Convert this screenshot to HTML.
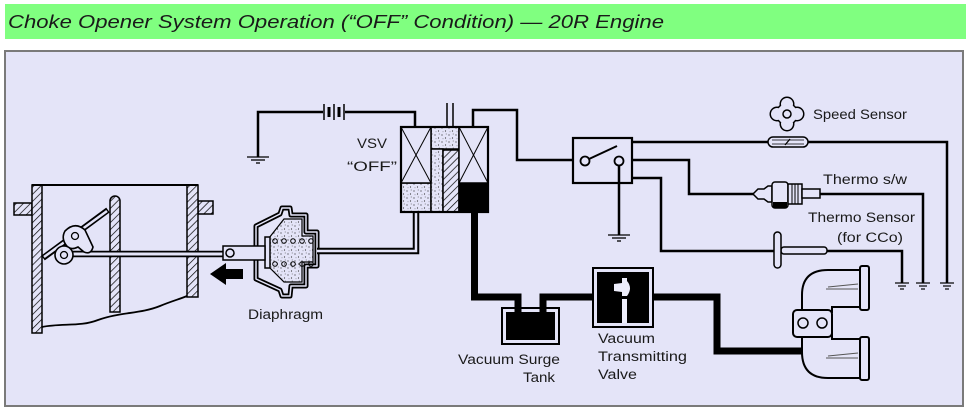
<!DOCTYPE html>
<html><head><meta charset="utf-8"><style>
html,body{margin:0;padding:0;background:#fff;}
svg{display:block;}
text{font-family:"Liberation Sans",Arial,sans-serif;fill:#1a1a1a;}
</style></head><body>
<svg width="970" height="416" viewBox="0 0 970 416" xmlns="http://www.w3.org/2000/svg">
<defs>
<pattern id="dots" width="7" height="7" patternUnits="userSpaceOnUse">
<rect width="7" height="7" fill="#e4e4f8"/>
<circle cx="1" cy="2" r="0.6" fill="#333"/>
<circle cx="4.5" cy="5" r="0.6" fill="#333"/>
<circle cx="5.2" cy="1" r="0.45" fill="#555"/>
<circle cx="2" cy="5.8" r="0.4" fill="#555"/>
</pattern>
<pattern id="hatch" width="5" height="5" patternUnits="userSpaceOnUse" patternTransform="rotate(45)">
<rect width="5" height="5" fill="#e4e4f8"/>
<line x1="0" y1="0" x2="0" y2="5" stroke="#000" stroke-width="1.4"/>
</pattern>
</defs>

<!-- title bar -->
<rect x="5" y="4" width="961" height="35" fill="#80ff80"/>
<text x="8" y="28" font-size="18" font-style="italic" textLength="656" lengthAdjust="spacingAndGlyphs">Choke Opener System Operation (“OFF” Condition) — 20R Engine</text>

<!-- panel -->
<rect x="5" y="51" width="958" height="355" fill="#e4e4f8" stroke="#7a7a7a" stroke-width="2"/>

<!-- ===== Carburetor ===== -->
<g stroke="#000" stroke-width="1.5">
<rect x="14" y="203" width="18" height="12" fill="url(#hatch)"/>
<rect x="198" y="201" width="15" height="13" fill="url(#hatch)"/>
<rect x="32" y="185" width="10" height="148" fill="url(#hatch)"/>
<rect x="187" y="185" width="11" height="112" fill="url(#hatch)"/>
<path d="M110,312 L110,201 A5,5 0 0 1 120,201 L120,312 Z" fill="url(#hatch)"/>
</g>
<line x1="32" y1="185" x2="198" y2="185" stroke="#000" stroke-width="2"/>
<path d="M42,327 C62,323 80,327 98,320 C120,312 140,314 160,306 C172,301 180,299 187,296" fill="none" stroke="#000" stroke-width="1.8"/>
<!-- choke plate -->
<line x1="43" y1="258" x2="108" y2="210" stroke="#000" stroke-width="6"/>
<line x1="44" y1="257" x2="107" y2="211" stroke="#e4e4f8" stroke-width="2.5"/>
<!-- rod -->
<line x1="62" y1="254" x2="224" y2="254" stroke="#000" stroke-width="6.5"/>
<line x1="63" y1="254" x2="223" y2="254" stroke="#e4e4f8" stroke-width="3"/>
<!-- linkage -->
<path d="M65,231 Q75,221 85,230 L93,247 Q91,255 84,252 L78,247 Q70,251 66,245 Q61,238 65,231 Z" fill="#e4e4f8" stroke="#000" stroke-width="1.6"/>
<circle cx="64" cy="255" r="9" fill="#e4e4f8" stroke="#000" stroke-width="1.6"/>
<circle cx="75" cy="236" r="3.5" fill="none" stroke="#000" stroke-width="1.3"/>
<circle cx="64" cy="255" r="3.5" fill="none" stroke="#000" stroke-width="1.3"/>
<!-- arrow -->
<polygon points="210,274 226,263 226,269 243,269 243,279 226,279 226,285" fill="#000"/>

<!-- ===== Diaphragm ===== -->
<path d="M256,226 L280,214 L282,208 L290,208 L291,215 L306,215 L306,232 L317,232 L317,266 L306,266 L306,286 L291,286 L290,296 L282,296 L280,290 L256,279 Z" fill="#e4e4f8" stroke="#000" stroke-width="5" stroke-linejoin="round"/>
<path d="M256,226 L280,214 L282,208 L290,208 L291,215 L306,215 L306,232 L317,232 L317,266 L306,266 L306,286 L291,286 L290,296 L282,296 L280,290 L256,279 Z" fill="none" stroke="#e4e4f8" stroke-width="1.5" stroke-linejoin="round"/>
<path d="M269,238 L284,219 L302,219 L302,236 L313,236 L313,262 L302,262 L302,282 L284,282 L269,267 Z" fill="url(#dots)" stroke="#000" stroke-width="1.2"/>
<g fill="none" stroke="#000" stroke-width="1">
<circle cx="275" cy="241" r="2.3"/><circle cx="284" cy="241" r="2.3"/><circle cx="293" cy="241" r="2.3"/><circle cx="302" cy="241" r="2.3"/><circle cx="311" cy="241" r="2.3"/>
<circle cx="275" cy="264" r="2.3"/><circle cx="284" cy="264" r="2.3"/><circle cx="293" cy="264" r="2.3"/><circle cx="302" cy="264" r="2.3"/><circle cx="311" cy="264" r="2.3"/>
</g>
<rect x="265" y="237" width="5" height="31" fill="#e4e4f8" stroke="#000" stroke-width="1.5"/>
<rect x="223" y="246" width="42" height="14" fill="#e4e4f8" stroke="#000" stroke-width="1.5"/>
<circle cx="230" cy="253" r="4" fill="#e4e4f8" stroke="#000" stroke-width="1.5"/>
<text x="248" y="319" font-size="13.5" textLength="75" lengthAdjust="spacingAndGlyphs">Diaphragm</text>

<!-- hose diaphragm to VSV -->
<path d="M317,251 L416,251 L416,211" fill="none" stroke="#000" stroke-width="6.5"/>
<path d="M317,251 L416,251 L416,211" fill="none" stroke="#e4e4f8" stroke-width="2.5"/>

<!-- ===== Battery wiring ===== -->
<g fill="none" stroke="#000" stroke-width="2.5">
<path d="M258,157 L258,112 L323,112"/>
<path d="M345,112 L415,112 L415,128"/>
<path d="M473,128 L473,110 L517,110 L517,160 L573,160"/>
</g>
<g stroke="#000">
<line x1="324" y1="104" x2="324" y2="120" stroke-width="1.5"/>
<line x1="329" y1="107" x2="329" y2="117" stroke-width="3"/>
<line x1="334" y1="104" x2="334" y2="120" stroke-width="1.5"/>
<line x1="339" y1="107" x2="339" y2="117" stroke-width="3"/>
<line x1="344" y1="104" x2="344" y2="120" stroke-width="1.5"/>
</g>
<g stroke="#000" stroke-width="1.3">
<line x1="247" y1="157" x2="269" y2="157"/>
<line x1="251" y1="160" x2="265" y2="160"/>
<line x1="256" y1="163" x2="260" y2="163"/>
</g>

<!-- ===== VSV ===== -->
<line x1="447" y1="103" x2="447" y2="128" stroke="#000" stroke-width="1.5"/>
<line x1="453" y1="103" x2="453" y2="128" stroke="#000" stroke-width="1.5"/>
<g stroke="#000" stroke-width="1.5">
<rect x="401" y="183" width="30" height="29" fill="url(#dots)"/>
<rect x="431" y="127" width="28" height="22" fill="url(#dots)"/>
<rect x="431" y="149" width="12" height="63" fill="url(#dots)"/>
<rect x="443" y="150" width="16" height="62" fill="url(#hatch)"/>
<rect x="459" y="183" width="29" height="29" fill="#000"/>
<rect x="401" y="127" width="30" height="56" fill="#e4e4f8"/>
<rect x="459" y="127" width="29" height="56" fill="#e4e4f8"/>
<line x1="401" y1="127" x2="431" y2="183" stroke-width="1"/>
<line x1="431" y1="127" x2="401" y2="183" stroke-width="1"/>
<line x1="459" y1="127" x2="488" y2="183" stroke-width="1"/>
<line x1="488" y1="127" x2="459" y2="183" stroke-width="1"/>
</g>
<rect x="401" y="127" width="87" height="85" fill="none" stroke="#000" stroke-width="2.2"/>
<text x="357" y="148" font-size="13.5" textLength="30" lengthAdjust="spacingAndGlyphs">VSV</text>
<text x="347" y="171" font-size="13.5" textLength="50" lengthAdjust="spacingAndGlyphs">“OFF”</text>

<!-- ===== Vacuum hoses ===== -->
<g fill="none" stroke="#000" stroke-width="7" stroke-linejoin="miter">
<path d="M474.5,211 L474.5,297 L518,297 L518,310"/>
<path d="M543,310 L543,297 L594,297"/>
<path d="M652,297 L717,297 L717,351 L803,351"/>
</g>
<!-- tank -->
<rect x="502" y="308" width="57" height="36" fill="#e4e4f8" stroke="#000" stroke-width="2"/>
<rect x="506" y="312" width="49" height="28" fill="#000"/>
<line x1="518" y1="305" x2="518" y2="313" stroke="#000" stroke-width="7"/>
<line x1="543" y1="305" x2="543" y2="313" stroke="#000" stroke-width="7"/>
<text x="458" y="364" font-size="13.5" textLength="102" lengthAdjust="spacingAndGlyphs">Vacuum Surge</text>
<text x="523" y="382" font-size="13.5" textLength="32" lengthAdjust="spacingAndGlyphs">Tank</text>
<!-- valve -->
<rect x="593" y="268" width="60" height="59" fill="#e4e4f8" stroke="#000" stroke-width="2"/>
<rect x="597" y="272" width="52" height="51" fill="#000"/>
<rect x="622" y="278" width="5" height="45" fill="#eeeefc"/>
<path d="M614,284 L622,283 L622,292 L614,291 Z" fill="#eeeefc"/>
<path d="M627,281 Q633,288 627,296 Z" fill="#eeeefc"/>
<rect x="620" y="296" width="9" height="3" fill="#000"/>
<text x="598" y="343" font-size="13.5" textLength="57" lengthAdjust="spacingAndGlyphs">Vacuum</text>
<text x="598" y="361" font-size="13.5" textLength="89" lengthAdjust="spacingAndGlyphs">Transmitting</text>
<text x="598" y="379" font-size="13.5" textLength="39" lengthAdjust="spacingAndGlyphs">Valve</text>

<!-- ===== Relay ===== -->
<rect x="573" y="138" width="59" height="45" fill="#e4e4f8" stroke="#000" stroke-width="2.2"/>
<line x1="589" y1="159" x2="617" y2="146" stroke="#000" stroke-width="2"/>
<circle cx="585" cy="161" r="4.5" fill="#e4e4f8" stroke="#000" stroke-width="1.8"/>
<line x1="619" y1="165.5" x2="619" y2="235" stroke="#000" stroke-width="2.5"/>
<circle cx="619" cy="161" r="4.5" fill="#e4e4f8" stroke="#000" stroke-width="1.8"/>
<g stroke="#000" stroke-width="1.3">
<line x1="608" y1="235" x2="630" y2="235"/>
<line x1="612" y1="238" x2="626" y2="238"/>
<line x1="617" y1="241" x2="621" y2="241"/>
</g>

<!-- right wires -->
<g fill="none" stroke="#000" stroke-width="2.5">
<path d="M632,142 L769,142"/>
<path d="M807,142 L947,142 L947,283"/>
<path d="M632,160 L689,160 L689,194 L754,194"/>
<path d="M819,194 L923,194 L923,283"/>
<path d="M632,178 L661,178 L661,251 L774,251"/>
<path d="M826,251 L902,251 L902,283"/>
</g>
<g stroke="#000" stroke-width="1.2">
<line x1="895" y1="283" x2="909" y2="283"/><line x1="898" y1="286" x2="906" y2="286"/><line x1="900" y1="289" x2="904" y2="289"/>
<line x1="916" y1="283" x2="930" y2="283"/><line x1="919" y1="286" x2="927" y2="286"/><line x1="921" y1="289" x2="925" y2="289"/>
<line x1="940" y1="283" x2="954" y2="283"/><line x1="943" y1="286" x2="951" y2="286"/><line x1="945" y1="289" x2="949" y2="289"/>
</g>

<!-- speed sensor -->
<g fill="#000">
<circle cx="787" cy="114" r="11.5"/>
<circle cx="787" cy="104" r="7.5"/><circle cx="787" cy="124" r="7.5"/>
<circle cx="777" cy="114" r="7.5"/><circle cx="797" cy="114" r="7.5"/>
</g>
<g fill="#e4e4f8">
<circle cx="787" cy="114" r="10"/>
<circle cx="787" cy="104" r="6"/><circle cx="787" cy="124" r="6"/>
<circle cx="777" cy="114" r="6"/><circle cx="797" cy="114" r="6"/>
</g>
<circle cx="787" cy="114" r="4" fill="none" stroke="#000" stroke-width="1.5"/>
<text x="813" y="119" font-size="13.5" textLength="94" lengthAdjust="spacingAndGlyphs">Speed Sensor</text>
<rect x="768" y="137" width="40" height="10" rx="5" fill="#e4e4f8" stroke="#000" stroke-width="1.5"/>
<line x1="772" y1="140" x2="804" y2="140" stroke="#000" stroke-width="0.8"/>
<line x1="772" y1="144" x2="804" y2="144" stroke="#000" stroke-width="0.8"/>
<line x1="785" y1="145" x2="790" y2="139" stroke="#000" stroke-width="1.3"/>

<!-- thermo s/w -->
<path d="M753,194 L758,189 L764,189 L768,186 L772,186 L772,202 L768,202 L764,199 L758,199 Z" fill="#e4e4f8" stroke="#000" stroke-width="1.5"/>
<rect x="772" y="182" width="16" height="26" rx="3" fill="#e4e4f8" stroke="#000" stroke-width="1.5"/>
<rect x="773" y="202" width="14" height="6" fill="#000"/>
<rect x="788" y="184" width="14" height="20" fill="#e4e4f8" stroke="#000" stroke-width="1.5"/>
<g stroke="#000" stroke-width="1"><line x1="792" y1="184" x2="792" y2="204"/><line x1="795" y1="184" x2="795" y2="204"/><line x1="798" y1="184" x2="798" y2="204"/></g>
<rect x="802" y="189" width="18" height="9" fill="#e4e4f8" stroke="#000" stroke-width="1.5"/>
<text x="823" y="184" font-size="13.5" textLength="84" lengthAdjust="spacingAndGlyphs">Thermo s/w</text>

<!-- thermo sensor -->
<rect x="781" y="247" width="46" height="7" rx="3" fill="#e4e4f8" stroke="#000" stroke-width="1.5"/>
<rect x="774" y="232" width="7" height="36" rx="3.5" fill="#e4e4f8" stroke="#000" stroke-width="1.5"/>
<text x="808" y="222" font-size="13.5" textLength="107" lengthAdjust="spacingAndGlyphs">Thermo Sensor</text>
<text x="837" y="242" font-size="13.5" textLength="66" lengthAdjust="spacingAndGlyphs">(for CCo)</text>

<!-- ===== Manifold ===== -->
<g fill="#e4e4f8" stroke="#000" stroke-width="2">
<path d="M802,312 L802,295 Q802,270 828,270 L861,270 L861,307 L832,307 L832,312 Z"/>
<path d="M802,334 L802,352 Q802,378 828,378 L861,378 L861,339 L832,339 L832,334 Z"/>
<rect x="860" y="266" width="9" height="44" rx="2"/>
<rect x="860" y="337" width="9" height="43" rx="2"/>
<rect x="793" y="310" width="39" height="27" rx="4"/>
</g>
<circle cx="803" cy="323" r="5" fill="none" stroke="#000" stroke-width="1.5"/>
<circle cx="822" cy="323" r="5" fill="none" stroke="#000" stroke-width="1.5"/>
<g stroke="#555" stroke-width="1" fill="none">
<path d="M828,287 L858,284"/><path d="M826,289 L858,289"/>
<path d="M828,356 L858,353"/><path d="M826,358 L858,358"/>
</g>
<line x1="795" y1="351" x2="803" y2="351" stroke="#000" stroke-width="7"/>
</svg>
</body></html>
